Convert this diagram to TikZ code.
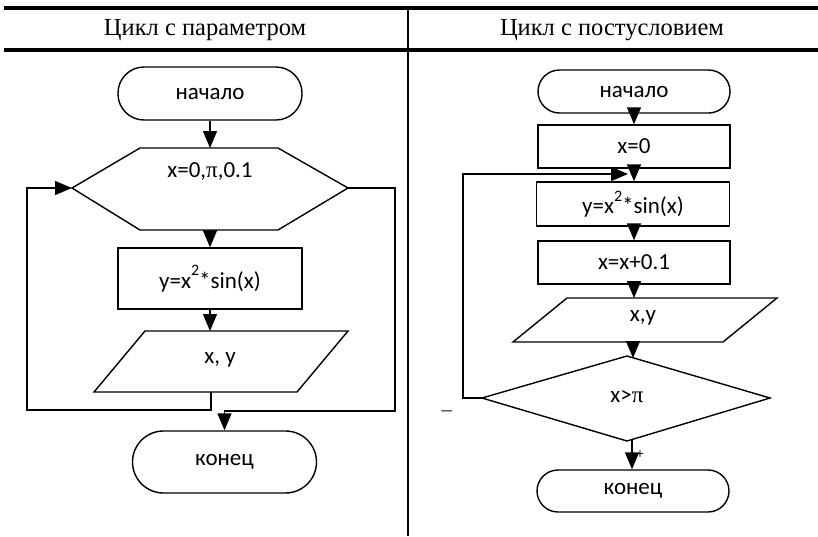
\documentclass[tikz,border=0pt]{standalone}
\usepackage{fontspec}
\setmainfont{Liberation Serif}
\newfontfamily\fcf{Carlito}
\usetikzlibrary{arrows.meta}
\tikzset{
  shp/.style={draw, line width=1.4pt, inner sep=0pt, font=\fcf\fontsize{23}{27}\selectfont},
  term/.style={shp, rounded corners=#1},
  box/.style={shp},
  lbl/.style={inner sep=0pt, font=\fcf\fontsize{23}{27}\selectfont},
  hdr/.style={inner sep=0pt, font=\fontsize{24.5}{28}\selectfont},
  con/.style={line width=1.4pt},
  arr/.style={con, -{Triangle[length=17pt,width=14pt]}},
  pol/.style={line width=1.4pt, line join=miter}
}
\newcommand{\pisym}{{\rmfamily π}}
\newcommand{\hisup}[1]{\raisebox{0.55em}{\fontsize{16}{18}\selectfont #1}}
\begin{document}
\begin{tikzpicture}[x=1pt,y=-1pt]
\useasboundingbox (0,0) rectangle (818,536);
% header
\draw[line width=4pt] (4,8) -- (818,8);
\draw[line width=4pt] (4,50) -- (818,50);
\draw[line width=2pt] (408,8) -- (408,536);
\node[hdr] (h1) at (205,30) {Цикл с параметром};
\node[hdr] (h2) at (612,30) {Цикл с постусловием};

% ---------- left chart ----------
\node[term=26pt, minimum width=184pt, minimum height=53pt] (ls) at (210,93.5) {начало};
\draw[pol] (72,188) -- (140,148) -- (278,148) -- (348,188) -- (278,230) -- (140,230) -- cycle;
\coordinate (hexL) at (72,188);
\coordinate (hexR) at (348,188);
\coordinate (hexT) at (210,148);
\coordinate (hexB) at (210,230);
\node[lbl] (hext) at (210,172) {x=0,\pisym,0.1};
\node[box, minimum width=184pt, minimum height=61pt] (lr) at (210,278.5) {y=x\hisup{2}*sin(x)};
\draw[pol] (145,331) -- (348,331) -- (297,392) -- (94,392) -- cycle;
\coordinate (lpT) at (210,331);
\coordinate (lpB) at (211,392);
\node[lbl] (lpt) at (220,360) {x, y};
\node[term=31pt, minimum width=184pt, minimum height=62pt] (lk) at (224.5,462) {конец};
\coordinate (lc1) at (27,410);
\coordinate (rc1) at (395,411);

\draw[arr] (ls.south) -- (hexT);
\draw[arr] (hexB) -- (lr.north);
\draw[arr] (lr.south) -- (lpT);
\draw[arr] (lpB) |- (lc1) |- (hexL);
\draw[arr] (hexR) -| (rc1) -| (lk.north);

% ---------- right chart ----------
\node[term=21.5pt, minimum width=192pt, minimum height=43pt] (rs) at (634,91.5) {начало};
\node[box, minimum width=192pt, minimum height=43pt] (r1) at (634,146.5) {x=0};
\node[box, minimum width=193pt, minimum height=44pt] (r2) at (633,204) {y=x\hisup{2}*sin(x)};
\node[box, minimum width=192pt, minimum height=43pt] (r3) at (634,262.5) {x=x+0.1};
\draw[pol] (567,298) -- (777,298) -- (723,342) -- (513,342) -- cycle;
\coordinate (rpT) at (634,298);
\coordinate (rpB) at (633,342);
\node[lbl] (rpt) at (643,318) {x,y};
\draw[pol] (482,398) -- (627,356) -- (770,398) -- (627,441) -- cycle;
\coordinate (dL) at (482,398);
\coordinate (dT) at (633,358);
\coordinate (dB) at (632,439.5);
\node[lbl] (dt) at (627,397) {x>\pisym};
\node[term=21pt, minimum width=192pt, minimum height=42pt] (rk) at (633,491) {конец};
\coordinate (rc2) at (463,174);
\coordinate (rtip) at (628,174);

\draw[arr] (rs.south) -- (r1.north);
\draw[arr] (r1.south) -- (r2.north -| r1.south);
\draw[arr] (r2.south -| r1.south) -- (r3.north);
\draw[arr] (r3.south) -- (rpT);
\draw[arr] (rpB) -- (dT);
\draw[arr] (dB) -- (dB |- rk.north);
\draw[arr] (dL) -| (rc2) -- (rtip);
\node[inner sep=0pt, font=\fcf\fontsize{15}{17}\selectfont] (minus) at (447,413) {—};
\node[inner sep=0pt, font=\fcf\fontsize{14}{16}\selectfont] (plus) at (640,455) {+};
\end{tikzpicture}
\end{document}
